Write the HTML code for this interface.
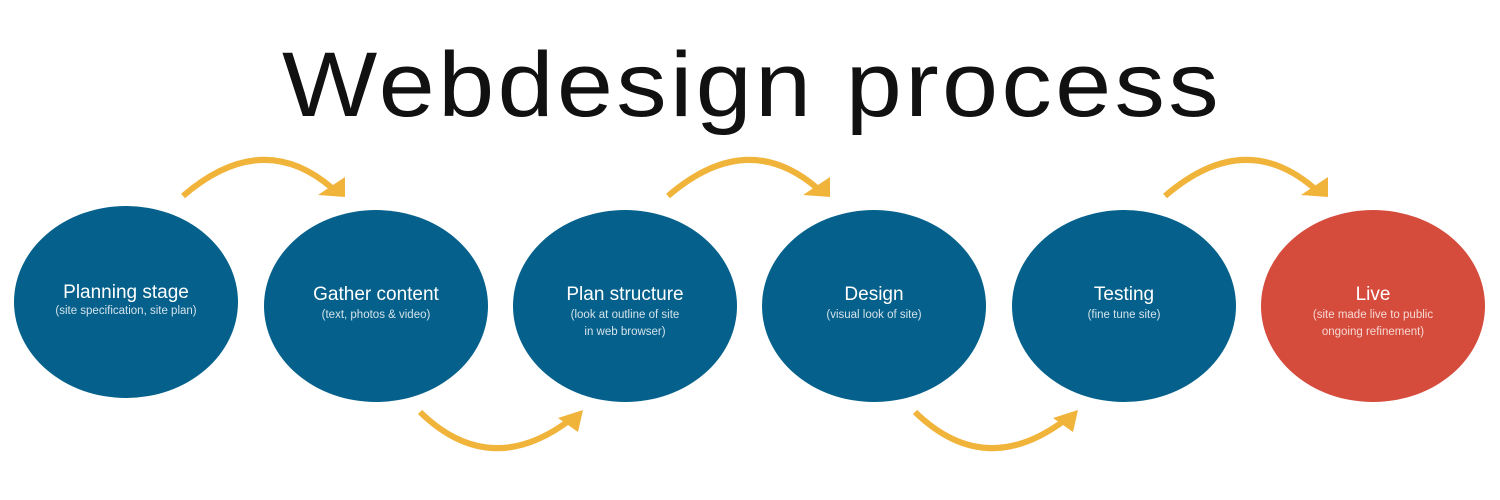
<!DOCTYPE html>
<html><head><meta charset="utf-8"><style>
html,body{margin:0;padding:0;background:#fff;width:1500px;height:500px;overflow:hidden}
svg{display:block}
.t{font-family:"Liberation Sans",sans-serif;fill:#fff;font-size:19px;text-anchor:middle}
.s{font-family:"Liberation Sans",sans-serif;fill:#d5e2ea;font-size:11.5px;text-anchor:middle}
.r{fill:#f6d8d3}
</style></head><body>
<svg width="1500" height="500" viewBox="0 0 1500 500">
<text x="752" y="116" text-anchor="middle" font-family="Liberation Sans, sans-serif" font-size="92" font-weight="300" fill="#111" letter-spacing="3" textLength="940" lengthAdjust="spacingAndGlyphs">Webdesign process</text>
<g fill="#05618b">
<ellipse cx="126" cy="302" rx="112" ry="96"/>
<ellipse cx="376" cy="306" rx="112" ry="96"/>
<ellipse cx="625" cy="306" rx="112" ry="96"/>
<ellipse cx="874" cy="306" rx="112" ry="96"/>
<ellipse cx="1124" cy="306" rx="112" ry="96"/>
</g>
<ellipse cx="1373" cy="306" rx="112" ry="96" fill="#d54c3d"/>
<g fill="none" stroke="#f0b43a" stroke-width="6">
<path d="M183,196 Q262,128 332,188"/>
<path d="M668,196 Q747,128 817,188"/>
<path d="M1165,196 Q1244,128 1314,188"/>
<path d="M420,412 Q490,480 570,420"/>
<path d="M915,412 Q985,480 1065,420"/>
</g>
<g fill="#f0b43a">
<polygon points="345,177 345,197 318,195"/>
<polygon points="830,177 830,197 803,195"/>
<polygon points="1328,177 1328,197 1301,195"/>
<polygon points="583,410 578,432 558,418"/>
<polygon points="1078,410 1073,432 1053,418"/>
</g>
<text class="t" x="126" y="298">Planning stage</text>
<text class="s" x="126" y="314">(site specification, site plan)</text>
<text class="t" x="376" y="300">Gather content</text>
<text class="s" x="376" y="318">(text, photos &amp; video)</text>
<text class="t" x="625" y="300">Plan structure</text>
<text class="s" x="625" y="318">(look at outline of site</text>
<text class="s" x="625" y="335">in web browser)</text>
<text class="t" x="874" y="300">Design</text>
<text class="s" x="874" y="318">(visual look of site)</text>
<text class="t" x="1124" y="300">Testing</text>
<text class="s" x="1124" y="318">(fine tune site)</text>
<text class="t" x="1373" y="300">Live</text>
<text class="s r" x="1373" y="318">(site made live to public</text>
<text class="s r" x="1373" y="335">ongoing refinement)</text>
</svg>
</body></html>
